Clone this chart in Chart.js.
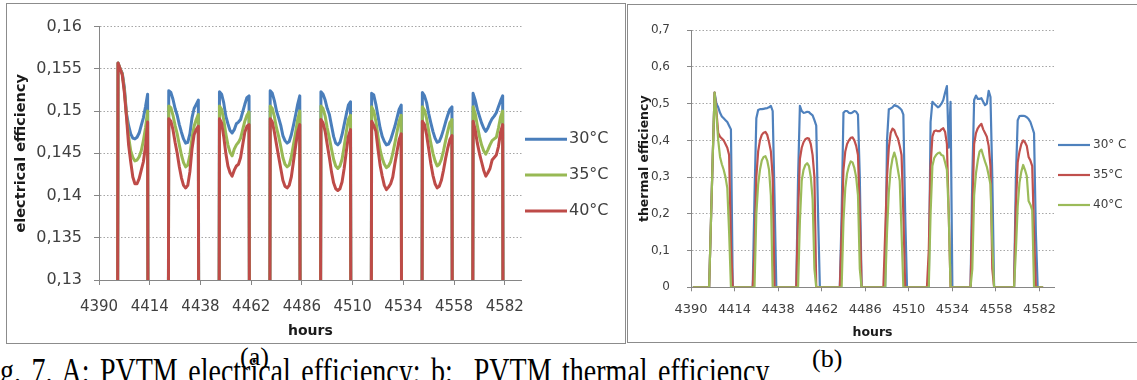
<!DOCTYPE html>
<html><head><meta charset="utf-8">
<script src="https://cdn.jsdelivr.net/npm/chart.js@4.4.1/dist/chart.umd.min.js"></script>
<style>
html,body{margin:0;padding:0;background:#fff;width:1137px;height:380px;overflow:hidden;position:relative;}
.box{position:absolute;border:1.5px solid #8c8c8c;box-sizing:border-box;background:#fff;}
#boxA{left:6px;top:3px;width:620px;height:341px;}
#boxB{left:627px;top:4px;width:530px;height:339px;}
canvas{position:absolute;}
#cA{left:8px;top:5px;}
#cB{left:629px;top:6px;}
.cap{position:absolute;font-family:"Liberation Serif","Times New Roman",serif;font-size:26px;color:#000;white-space:pre;line-height:26px;}
#capLine{left:0px;top:353px;font-size:28px;line-height:28px;word-spacing:3.5px;transform:scaleY(1.3);transform-origin:0 0;}
</style></head>
<body>
<div class="cap" id="capLine">g. 7. A: PVTM electrical efficiency; b:  PVTM thermal efficiency</div>
<div class="box" id="boxA"></div>
<div class="box" id="boxB"></div>
<canvas id="cA" width="617" height="337"></canvas>
<canvas id="cB" width="508" height="336"></canvas>
<div class="cap" style="left:240px;top:344px;">(a)</div>
<div class="cap" style="left:812px;top:346px;">(b)</div>
<script>
// ---------- data ----------
const hourTicks = [4390, 4414, 4438, 4462, 4486, 4510, 4534, 4558, 4582];
const elecTicks = [0.13, 0.135, 0.14, 0.145, 0.15, 0.155, 0.16];
const thermTicks = [0, 0.1, 0.2, 0.3, 0.4, 0.5, 0.6, 0.7];
const elecLabels = ['30°C', '35°C', '40°C'];
const thermLabels = ['30° C', '35°C', '40°C'];
const hourFirst = 4391, hourLast = 4584;

// first lit hour of each day (electrical), 15 hourly values per day
const elecDayStart = [4399, 4423, 4447, 4471, 4495, 4519, 4543, 4567];
const elec30 = [
  [0.1557,0.1550,0.1545,0.1528,0.1497,0.1483,0.1473,0.1468,0.1467,0.1469,0.1474,0.1483,0.1492,0.1505,0.1520],
  [0.1524,0.1522,0.1514,0.1503,0.1495,0.1484,0.1475,0.1467,0.1462,0.1463,0.1473,0.1492,0.1503,0.1508,0.1513],
  [0.1523,0.1520,0.1510,0.1494,0.1485,0.1477,0.1474,0.1478,0.1485,0.1487,0.1490,0.1499,0.1508,0.1516,0.1518],
  [0.1524,0.1521,0.1512,0.1500,0.1492,0.1483,0.1471,0.1465,0.1462,0.1464,0.1472,0.1483,0.1495,0.1508,0.1518],
  [0.1523,0.1520,0.1513,0.1503,0.1496,0.1483,0.1470,0.1462,0.1460,0.1463,0.1472,0.1484,0.1496,0.1507,0.1511],
  [0.1521,0.1519,0.1508,0.1494,0.1480,0.1470,0.1464,0.1460,0.1461,0.1466,0.1474,0.1482,0.1492,0.1502,0.1507],
  [0.1522,0.1518,0.1510,0.1497,0.1486,0.1476,0.1468,0.1463,0.1464,0.1470,0.1478,0.1487,0.1495,0.1502,0.1505],
  [0.1521,0.1513,0.1502,0.1494,0.1486,0.1480,0.1476,0.1480,0.1486,0.1491,0.1494,0.1498,0.1505,0.1512,0.1518]
];
const elec35 = [
  [0.1557,0.1550,0.1544,0.1525,0.1495,0.1470,0.1453,0.1445,0.1441,0.1442,0.1446,0.1453,0.1465,0.1480,0.1500],
  [0.1506,0.1504,0.1495,0.1483,0.1473,0.1460,0.1448,0.1439,0.1434,0.1436,0.1448,0.1468,0.1482,0.1490,0.1496],
  [0.1506,0.1502,0.1490,0.1473,0.1460,0.1451,0.1447,0.1455,0.1460,0.1463,0.1468,0.1478,0.1488,0.1495,0.1499],
  [0.1506,0.1503,0.1493,0.1480,0.1470,0.1458,0.1445,0.1437,0.1434,0.1436,0.1446,0.1460,0.1474,0.1490,0.1500],
  [0.1506,0.1503,0.1494,0.1480,0.1468,0.1455,0.1443,0.1435,0.1432,0.1435,0.1443,0.1458,0.1475,0.1490,0.1495],
  [0.1505,0.1500,0.1488,0.1470,0.1454,0.1444,0.1437,0.1433,0.1435,0.1440,0.1450,0.1462,0.1475,0.1488,0.1495],
  [0.1505,0.1501,0.1491,0.1476,0.1462,0.1450,0.1441,0.1435,0.1437,0.1443,0.1453,0.1465,0.1476,0.1486,0.1490],
  [0.1505,0.1497,0.1483,0.1470,0.1460,0.1453,0.1449,0.1454,0.1460,0.1465,0.1467,0.1469,0.1480,0.1493,0.1500]
];
const elec40 = [
  [0.1557,0.1550,0.1543,0.1522,0.1493,0.1460,0.1440,0.1422,0.1414,0.1414,0.1420,0.1430,0.1440,0.1458,0.1487],
  [0.1491,0.1488,0.1478,0.1463,0.1450,0.1434,0.1421,0.1412,0.1409,0.1412,0.1428,0.1455,0.1472,0.1478,0.1482],
  [0.1491,0.1486,0.1470,0.1450,0.1435,0.1427,0.1423,0.1430,0.1435,0.1437,0.1445,0.1460,0.1475,0.1482,0.1484],
  [0.1491,0.1487,0.1475,0.1460,0.1446,0.1432,0.1418,0.1411,0.1409,0.1412,0.1422,0.1440,0.1458,0.1475,0.1484],
  [0.1490,0.1486,0.1476,0.1460,0.1445,0.1428,0.1415,0.1408,0.1406,0.1408,0.1416,0.1432,0.1452,0.1470,0.1478],
  [0.1488,0.1483,0.1476,0.1455,0.1436,0.1423,0.1412,0.1407,0.1410,0.1414,0.1422,0.1438,0.1452,0.1466,0.1473],
  [0.1488,0.1484,0.1472,0.1455,0.1438,0.1424,0.1414,0.1409,0.1411,0.1418,0.1430,0.1444,0.1456,0.1466,0.1471],
  [0.1488,0.1478,0.1462,0.1450,0.1440,0.1430,0.1423,0.1427,0.1432,0.1442,0.1445,0.1448,0.1458,0.1475,0.1484]
];

// thermal: first hour of each day block, hourly values from that hour
const thermDayStart = [4400, 4424, 4448, 4472, 4496, 4520, 4544, 4568];
const therm30 = [
  [0,0.18,0.36,0.53,0.50,0.49,0.475,0.465,0.46,0.455,0.45,0.44,0.43,0],
  [0,0.25,0.46,0.483,0.485,0.485,0.486,0.487,0.488,0.49,0.494,0.48,0.25,0],
  [0,0.30,0.494,0.48,0.475,0.476,0.478,0.477,0.472,0.468,0.455,0.44,0.2,0],
  [0,0.20,0.475,0.48,0.48,0.475,0.474,0.476,0.48,0.478,0.47,0.30,0],
  [0,0,0.40,0.485,0.487,0.49,0.496,0.494,0.492,0.488,0.483,0.47,0.2,0],
  [0,0,0.45,0.505,0.50,0.495,0.49,0.493,0.50,0.51,0.53,0.548,0.38,0.505,0],
  [0,0.30,0.51,0.522,0.513,0.513,0.515,0.505,0.496,0.50,0.535,0.518,0.30,0],
  [0,0.30,0.455,0.466,0.467,0.467,0.466,0.463,0.458,0.45,0.435,0.42,0.15,0]
];
const therm35 = [
  [0,0.18,0.36,0.53,0.48,0.42,0.41,0.405,0.40,0.39,0.38,0.36,0.12,0],
  [0,0.10,0.30,0.37,0.40,0.415,0.421,0.423,0.415,0.395,0.37,0.30,0],
  [0,0.20,0.35,0.38,0.395,0.403,0.406,0.405,0.39,0.36,0.30,0],
  [0,0.15,0.32,0.37,0.39,0.40,0.407,0.408,0.40,0.385,0.36,0.20,0],
  [0,0.15,0.30,0.38,0.42,0.432,0.428,0.415,0.405,0.385,0.36,0.20,0],
  [0,0.10,0.33,0.41,0.425,0.427,0.425,0.425,0.43,0.433,0.423,0.39,0.20,0],
  [0,0.20,0.39,0.42,0.433,0.44,0.445,0.43,0.42,0.41,0.385,0.33,0.05,0],
  [0,0.22,0.34,0.37,0.39,0.40,0.395,0.385,0.355,0.345,0.33,0.15,0]
];
const therm40 = [
  [0,0.18,0.36,0.53,0.47,0.40,0.355,0.335,0.32,0.30,0.27,0.15,0],
  [0,0,0.20,0.28,0.32,0.345,0.355,0.357,0.345,0.32,0.25,0],
  [0,0,0.18,0.29,0.32,0.333,0.338,0.33,0.30,0.24,0.05,0],
  [0,0,0.18,0.27,0.31,0.33,0.343,0.34,0.325,0.30,0.25,0.05,0],
  [0,0,0.15,0.26,0.32,0.35,0.367,0.35,0.32,0.29,0.15,0],
  [0,0,0.20,0.33,0.352,0.36,0.365,0.367,0.36,0.358,0.34,0.32,0.20,0],
  [0,0.05,0.25,0.31,0.345,0.37,0.375,0.358,0.342,0.328,0.305,0.28,0.12,0],
  [0,0.10,0.22,0.285,0.315,0.333,0.32,0.303,0.235,0.225,0.21,0]
];

// ---------- helpers ----------
function toPoints(starts, days) {
  const pts = [{x: hourFirst, y: 0}];
  days.forEach((vals, k) => {
    const s = starts[k];
    if (vals[0] !== 0) pts.push({x: s - 1, y: 0});
    vals.forEach((v, i) => pts.push({x: s + i, y: v}));
    if (vals[vals.length - 1] !== 0) pts.push({x: s + vals.length, y: 0});
  });
  pts.push({x: hourLast, y: 0});
  return pts;
}
const fmtComma = v => String(+v.toFixed(3)).replace('.', ',');

const lineLegend = {
  id: 'lineLegend',
  afterDraw(chart, args, o) {
    const ctx = chart.ctx;
    ctx.save();
    ctx.font = o.font;
    ctx.textBaseline = 'middle';
    ctx.textAlign = 'left';
    chart.data.datasets.forEach((ds, i) => {
      const y = o.y + i * o.dy;
      ctx.strokeStyle = ds.borderColor;
      ctx.lineWidth = o.lineWidth;
      ctx.beginPath();
      ctx.moveTo(o.x, y);
      ctx.lineTo(o.x + o.len, y);
      ctx.stroke();
      ctx.fillStyle = o.color;
      ctx.fillText(ds.label, o.x + o.len + o.gap, y);
    });
    ctx.restore();
  }
};

const AX = '#868686', GRID = '#a6a6a6', TXT = '#404040';
const FONT = 'DejaVu Sans';

function makeChart(id, cfg) {
  return new Chart(document.getElementById(id), {
    type: 'line',
    data: {datasets: cfg.datasets.map((d, i, arr) => ({
      label: d.label, data: d.data, borderColor: d.color, backgroundColor: d.color,
      borderWidth: cfg.lw, pointRadius: 0, tension: 0, fill: false,
      borderJoinStyle: 'round', clip: 0, order: arr.length - 1 - i
    }))},
    plugins: [lineLegend],
    options: {
      responsive: false, animation: false, events: [],
      layout: {padding: cfg.pad},
      plugins: {legend: {display: false}, tooltip: {enabled: false}, lineLegend: cfg.legend},
      scales: {
        x: {
          type: 'linear', min: 4390, max: 4590,
          afterBuildTicks: s => { s.ticks = hourTicks.map(v => ({value: v})); },
          afterFit: s => { s.height = cfg.xH; },
          grid: {drawOnChartArea: false, drawTicks: true, tickLength: cfg.tl, tickColor: AX, tickWidth: 1},
          border: {display: true, color: AX, width: 1},
          ticks: {font: {family: FONT, size: cfg.xFont}, color: TXT, padding: cfg.xPad, maxRotation: 0, autoSkip: false,
                  callback: v => String(v)},
          title: {display: true, text: 'hours', color: '#1a1a1a', font: {family: FONT, size: cfg.xtFont, weight: 'bold'},
                  padding: {top: 0, bottom: cfg.xtPad}}
        },
        y: {
          min: cfg.yMin, max: cfg.yMax,
          afterBuildTicks: s => { s.ticks = cfg.yTicks.map(v => ({value: v})); },
          afterFit: s => { s.width = cfg.yW; },
          grid: {color: GRID, lineWidth: 1, drawTicks: true, tickLength: cfg.tl, tickColor: AX, tickWidth: 1},
          border: {display: true, color: AX, width: 1, dash: [1.5, 2]},
          ticks: {font: {family: FONT, size: cfg.yFont}, color: TXT, padding: cfg.yPad, callback: v => fmtComma(v)},
          title: {display: true, text: cfg.yTitle, color: '#1a1a1a', font: {family: FONT, size: cfg.ytFont, weight: 'bold'},
                  padding: {top: cfg.ytPad, bottom: 0}}
        }
      }
    }
  });
}

makeChart('cA', {
  datasets: [
    {label: elecLabels[0], data: toPoints(elecDayStart, elec30), color: '#4a7ebb'},
    {label: elecLabels[1], data: toPoints(elecDayStart, elec35), color: '#98b954'},
    {label: elecLabels[2], data: toPoints(elecDayStart, elec40), color: '#be4b48'}
  ],
  lw: 3, pad: {left: 0, top: 14, right: 103.3, bottom: 0},
  xH: 62, yW: 91, tl: 5,
  xFont: 15, xPad: 13, xtFont: 14, xtPad: 2,
  yFont: 16, yPad: 12, ytFont: 14.5, ytPad: 5,
  yMin: 0.13, yMax: 0.16, yTicks: elecTicks, yTitle: 'electrical efficiency',
  legend: {x: 517, y: 134.3, dy: 35.8, len: 42, gap: 2, lineWidth: 3, font: '16px "DejaVu Sans"', color: TXT}
});

makeChart('cB', {
  datasets: [
    {label: thermLabels[0], data: toPoints(thermDayStart, therm30), color: '#4f81bd'},
    {label: thermLabels[1], data: toPoints(thermDayStart, therm35), color: '#c0504d'},
    {label: thermLabels[2], data: toPoints(thermDayStart, therm40), color: '#9bbb59'}
  ],
  lw: 2.2, pad: {left: 0, top: 10, right: 83, bottom: 0},
  xH: 54.7, yW: 62, tl: 4,
  xFont: 13, xPad: 11, xtFont: 12.5, xtPad: 1.5,
  yFont: 12, yPad: 17, ytFont: 12.5, ytPad: 8.5,
  yMin: 0, yMax: 0.7, yTicks: thermTicks, yTitle: 'thermal efficiency',
  legend: {x: 429, y: 139, dy: 30, len: 32, gap: 3, lineWidth: 2.2, font: '12px "DejaVu Sans"', color: TXT}
});
</script>
</body></html>
